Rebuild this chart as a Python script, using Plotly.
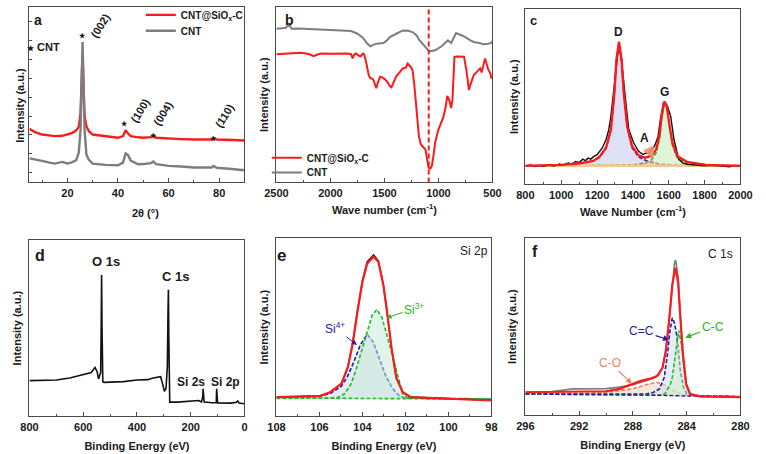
import plotly.graph_objects as go

# ---------------- (a) XRD ----------------
xrd_angle = [5, 7, 10, 13, 15, 18, 20, 22, 23.5, 24.5, 25.2, 25.6, 26, 26.4, 26.8, 27.5, 28.5, 30, 35, 40,
             42, 43, 44, 45, 48, 50, 53, 54, 55, 58, 60, 65, 70, 75, 77, 77.8, 79, 85, 90]
xrd_composite = [54, 51, 48.3, 47, 46.7, 47, 48.3, 50, 52.5, 56, 70, 96.7, 130, 96.7, 66.7, 56.7, 51.7, 48.3, 46.7, 45,
                 46.7, 52.7, 49.3, 46.7, 45.5, 45, 45.7, 47.7, 45, 44.5, 44, 43.7, 43.3, 43.3, 43.3, 45, 43.3, 42.8, 42.3]
xrd_cnt = [24.3, 23, 21.7, 20, 19, 20.7, 19, 20.5, 22.5, 30, 53.3, 96.7, 141.7, 96.7, 53.3, 28.3, 22.7, 19, 17.7, 17.3,
           20, 29.3, 27.5, 22, 18.3, 18.5, 19.5, 21, 18.5, 17.5, 16.7, 16, 15, 15, 15, 16.7, 14.8, 13.5, 12.3]
xrd_peak_names = ["(002)", "(100)", "(004)", "(110)"]
xrd_peak_angle = [26, 42.7, 54.1, 77.6]

# ---------------- (b) FTIR ----------------
ftir_cnt_x = [2500, 2420, 2380, 2360, 2300, 2200, 2108, 2000, 1900, 1809, 1750, 1700, 1660, 1630, 1600, 1570, 1510,
              1480, 1450, 1420, 1390, 1330, 1280, 1240, 1200, 1180, 1121, 1090, 1076, 1031, 971, 930, 912, 882, 860,
              837, 800, 763, 700, 673, 620, 584, 540, 510, 500]
ftir_cnt_y = [155, 155.7, 159.3, 155, 155.3, 155, 154, 153.7, 153.3, 152.7, 150, 146, 140, 137.3, 139, 140, 140.7,
              143, 146.7, 148, 150, 153.3, 153, 151.7, 148, 144, 136.7, 132.7, 132.3, 133.3, 137.3, 141, 143.3, 140.7,
              145, 150.7, 149, 147.3, 143, 141.7, 140.7, 139.3, 140, 140.7, 142.7]
ftir_comp_x = [2500, 2400, 2276, 2200, 2157, 2120, 2082, 2000, 1920, 1850, 1809, 1794, 1780, 1764, 1740, 1720, 1700,
               1690, 1675, 1660, 1645, 1630, 1610, 1600, 1576, 1560, 1540, 1520, 1495, 1470, 1450, 1435, 1410, 1390,
               1360, 1330, 1300, 1286, 1260, 1240, 1225, 1211, 1195, 1181, 1165, 1151, 1121, 1105, 1091, 1075, 1061,
               1045, 1031, 1001, 975, 957, 935, 918, 900, 882, 870, 860, 852, 830, 800, 763, 740, 718, 700, 673, 640,
               614, 600, 580, 569, 555, 539, 520, 510, 500]
ftir_comp_y = [129.3, 130, 130.7, 129.5, 127.3, 129, 130, 129.7, 130, 130, 129.3, 125, 129, 130, 128, 127.3, 130,
               129.3, 124, 116.7, 108, 105, 104.5, 102.7, 95, 101, 106.7, 106, 104, 101, 97, 96, 103, 107.3,
               111, 115, 116, 120, 117, 113.3, 100, 80, 62, 46.7, 39, 36.7, 33.3, 22, 15, 14, 16.7,
               28, 40, 53.3, 60, 65, 75, 87.3, 83, 75, 84, 110, 126.7, 127, 127, 126.7, 112, 93.3, 100, 108.3, 112,
               115, 111, 122, 125, 120, 114, 110, 105, 106]
ftir_marker_wn = 1090

# ---------------- (c) Raman ----------------
raman_data_x = [800, 830, 850, 880, 900, 930, 960, 990, 1010, 1040, 1060, 1080, 1100, 1120, 1135, 1150, 1165, 1180,
                1200, 1214, 1230, 1250, 1265, 1277, 1295, 1310, 1322, 1337, 1350, 1359, 1377, 1395, 1404, 1420, 1431,
                1445, 1458, 1470, 1485, 1500, 1521, 1540, 1553, 1570, 1580, 1593, 1611, 1629, 1645, 1656, 1680, 1701,
                1750, 1800, 1850, 1900, 1940, 1960, 2000]
raman_data_y = [18.7, 19.5, 18, 19, 18.3, 19.5, 18.5, 20.5, 19.5, 21.5, 20.5, 23, 22, 25.5, 24, 26.5, 25.5, 28,
                30, 33.5, 37, 45.3, 55, 68.7, 100, 128, 142.5, 124, 96, 85.3, 55.3, 45, 42, 37, 33.7,
                31.5, 30.3, 31.5, 31.3, 33.5, 38.7, 48, 65.3, 82, 83, 78.7, 68.7, 45.3, 32, 25.3, 21.5, 20.3,
                19.5, 18.7, 19.2, 18.5, 17.8, 19, 18.7]
raman_fit_x = [800, 1000, 1106, 1178, 1214, 1250, 1277, 1295, 1308, 1322, 1337, 1349, 1368, 1395, 1431, 1467, 1503,
               1530, 1548, 1560, 1575, 1589, 1602, 1620, 1647, 1701, 1809, 2000]
raman_fit_y = [18.7, 19.7, 21.3, 23.7, 28, 37, 55.3, 88.7, 125.3, 143.7, 125.3, 92, 58.7, 38.7, 29.3, 27, 28.7,
               35.3, 48.7, 68.7, 83.7, 78.7, 62, 42, 28.7, 22.7, 19.7, 18.7]
raman_d_x = [800, 1000, 1100, 1180, 1214, 1250, 1277, 1295, 1308, 1322, 1337, 1349, 1368, 1395, 1431, 1467, 1503,
             1550, 1600, 1700, 2000]
raman_d_y = [18.7, 19.5, 21, 23.5, 27.5, 36.5, 55, 88.7, 125, 143.7, 125, 92, 58, 37, 28, 24.5, 22, 20.5, 19.8,
             19, 18.7]
raman_g_x = [800, 1400, 1467, 1503, 1530, 1548, 1560, 1575, 1589, 1602, 1620, 1647, 1700, 1809, 2000]
raman_g_y = [18.7, 19.5, 21.5, 25, 32, 46, 66, 82.5, 77, 60, 40, 27, 21.5, 19.5, 18.7]
raman_a_x = [1400, 1450, 1480, 1500, 1520, 1550, 1600]
raman_a_y = [18.7, 19.5, 22, 23.5, 22, 19.5, 18.7]
raman_base_x = [800, 2000]
raman_base_y = [18.7, 18.7]

# ---------------- (d) XPS survey ----------------
survey_be = [800, 750, 700, 650, 600, 570, 556, 548, 543, 535, 533, 531.5, 530, 529, 527, 522, 500, 450, 400, 360,
             340, 318, 312, 305, 298, 292, 287, 284.5, 283, 281.5, 280, 278, 250, 200, 170, 160, 155, 154, 153, 150,
             120, 105, 103.5, 102.5, 100, 50, 30, 25, 20, 0]
survey_int = [36, 36.3, 36.7, 38.7, 42, 44.3, 49.3, 45, 37.7, 44, 90, 142.7, 90, 40, 35, 34.3, 34.5, 35, 36.7, 37,
              38.7, 39.3, 40, 33, 25.3, 28, 50, 105, 127.7, 80, 20, 14.3, 14.3, 15, 16, 14.5, 20, 27.7, 20, 14.5,
              13.7, 13.7, 27.7, 14, 13.5, 13.3, 14.3, 15.5, 13.5, 12.7]
survey_labels = ["O 1s", "C 1s", "Si 2s", "Si 2p"]

# ---------------- (e) Si 2p ----------------
si_env_x = [108, 106, 105.5, 104.98, 104.68, 104.46, 104.23, 104.0, 103.78, 103.48, 103.26, 103.03, 102.88, 102.65,
            102.43, 102.13, 101.75, 100, 98]
si_env_y = [19.3, 20.3, 24.3, 32.7, 49.3, 72.7, 106, 136, 154.3, 161, 156, 132.7, 109.3, 69.3, 39.3, 24.3, 19.3,
            17.7, 16]
si_data_y = [19.5, 20.5, 24.5, 33, 50, 73.5, 107, 137.5, 156, 163, 157, 133, 109, 69, 39, 24.5, 19.5, 17.9, 16.2]
si4_x = [108, 106, 105.5, 105, 104.7, 104.4, 104.1, 103.78, 103.5, 103.2, 102.9, 102.6, 102.3, 102, 100, 98]
si4_y = [19.3, 20.3, 23, 30, 40, 55, 72, 82.7, 75, 58, 40, 28, 21, 18.5, 17.7, 17]
si3_x = [108, 105.2, 104.83, 104.53, 104.3, 104.08, 103.8, 103.55, 103.33, 103.1, 102.9, 102.7, 102.43, 102.13,
         101.9, 98]
si3_y = [18, 18.5, 22.7, 32.7, 47, 62.7, 85, 102, 107.7, 100, 85, 69.3, 46, 22.7, 18.5, 17.5]
si_base_x = [108, 106, 104, 102, 100, 98]
si_base_y = [18.5, 18.3, 18, 17.7, 17.5, 17.3]

# ---------------- (f) C 1s ----------------
c_env_x = [296, 294, 292, 290, 289, 288.07, 287.35, 286.63, 286.15, 285.79, 285.55, 285.31, 285.07, 284.85, 284.64,
           284.47, 284.28, 284.04, 283.75, 283.03, 281.35, 280]
c_env_y = [23.3, 23.5, 23.5, 24.3, 26.7, 31.7, 35, 37.3, 40, 48.3, 65, 95, 131.7, 149, 135, 98.3, 61.7, 31.7, 21.7,
           19, 18.3, 18.3]
c_data_x = [296, 294, 292.5, 291, 290, 289, 288, 287, 286.3, 285.8, 285.55, 285.31, 285.07, 284.9, 284.82, 284.64,
            284.47, 284.28, 284.04, 283.75, 283, 281, 280]
c_data_y = [23.3, 24, 26.7, 27, 27, 28.5, 31, 35, 38.5, 48, 66, 96, 134, 154, 156.7, 140, 100, 62, 31, 21.5, 19,
            18.3, 18.3]
cc2_x = [296, 290, 287, 286.5, 286.03, 285.67, 285.43, 285.25, 285.07, 284.9, 284.71, 284.47, 284.23, 283.99, 283.5, 280]
cc2_y = [21.5, 21.2, 21.5, 23, 26.7, 38.3, 61.7, 85, 98.3, 93, 78.3, 45, 28.3, 21.7, 20, 18.8]
cc1_x = [296, 286, 285.6, 285.43, 285.2, 285.07, 284.83, 284.59, 284.35, 284.18, 283.99, 283.75, 283.3, 280]
cc1_y = [21.5, 20.3, 22, 26.7, 32, 38.3, 61.7, 85.7, 68.3, 45, 28.3, 21.7, 19.8, 18.8]
co_x = [296, 292, 290, 289, 288, 287, 286.2, 285.5, 285, 284.5, 284, 282, 280]
co_y = [21.5, 22, 23.3, 25, 26.7, 31, 33.3, 30, 25, 21.7, 20.5, 19, 18.8]
c_base_x = [296, 290, 286, 284, 282, 280]
c_base_y = [21.5, 21, 20.3, 19.5, 19, 18.8]

# ---------------- styling ----------------
W, H = 766, 454
FONT = "Liberation Sans, Arial, sans-serif"
RED = "rgb(250,28,28)"
GRAY = "rgb(125,125,125)"
BLUE = "rgb(30,30,160)"
GREEN = "rgb(40,185,40)"
ORANGE = "rgb(245,130,95)"
AX = "#4a4a4a"
TF = dict(family=FONT, size=11, color="#1a1a1a", weight="bold")
TITLEF = dict(family=FONT, size=11, color="#1a1a1a", weight="bold")

# pixel boxes of each panel (left, right, top, bottom)
BOX = {1: (18, 240, 3, 180), 2: (273, 496, 3, 180), 3: (530, 752, 5, 182),
       4: (18, 240, 238, 416), 5: (273, 495, 236, 416), 6: (530, 752, 236, 415)}
XR = {1: [5, 90], 2: [2500, 500], 3: [800, 2000], 4: [800, 0], 5: [108, 98], 6: [296, 280]}
YR = {1: [0, 177], 2: [0, 177], 3: [0, 177], 4: [0, 178], 5: [0, 180], 6: [0, 179]}
DT = {1: (20, 10), 2: (500, 250), 3: (200, 100), 4: (200, 100), 5: (2, 1), 6: (4, 2)}
XT = {1: "2θ (°)", 2: "Wave number (cm<sup>-1</sup>)", 3: "Wave Number (cm<sup>-1</sup>)",
      4: "Binding Energy (eV)", 5: "Binding Energy (eV)", 6: "Binding Energy (eV)"}
XSTAND = {2: 8, 3: 8, 4: 10, 5: 10, 6: 10}
YSTAND = {1: 4, 2: 4, 3: 3.5, 4: 4.5, 5: 4.5, 6: 5.5}

fig = go.Figure()
layout = dict(width=W, height=H, margin=dict(l=0, r=0, t=0, b=0), paper_bgcolor="white",
              plot_bgcolor="white", showlegend=True)
for i in range(1, 7):
    l, r, t, b = BOX[i]
    sx = "" if i == 1 else str(i)
    xa = dict(domain=[l / W, r / W], range=XR[i], anchor="y" + sx, showline=True, mirror=True,
              linecolor=AX, linewidth=1, ticks="inside", ticklen=4, tickcolor=AX, tickwidth=1,
              tick0=0, dtick=DT[i][0], showgrid=False, zeroline=False, tickfont=TF,
              minor=dict(ticks="inside", ticklen=2.5, dtick=DT[i][1], tickcolor=AX))
    ya = dict(domain=[1 - b / H, 1 - t / H], range=YR[i], anchor="x" + sx, showline=True, mirror=True,
              linecolor=AX, linewidth=1, showticklabels=False, showgrid=False, zeroline=False, ticks="")
    if i != 1:
        xa["title"] = dict(text=XT[i], font=TITLEF, standoff=XSTAND[i])
        ya["title"] = dict(text="Intensity (a.u.)", font=TITLEF, standoff=YSTAND[i])
    else:
        ya.update(ticks="inside", ticklen=3, tick0=10, dtick=19, tickcolor=AX)
    layout["xaxis" + sx] = xa
    layout["yaxis" + sx] = ya


def xy(i):
    return ("x", "y") if i == 1 else ("x" + str(i), "y" + str(i))


def line(i, x, y, color, width=2, dash=None, name=None, legend=None, fill=None, fillcolor=None):
    xa, ya = xy(i)
    fig.add_trace(go.Scatter(x=x, y=y, mode="lines", xaxis=xa, yaxis=ya,
                             line=dict(color=color, width=width, dash=dash),
                             name=name, showlegend=legend is not None, legend=legend,
                             fill=fill, fillcolor=fillcolor, hoverinfo="skip"))


def comp(i, bx, by, x, y, color, fillcolor):
    line(i, bx, by, "rgba(0,0,0,0)", width=0)
    line(i, x, y, color, width=1.6, dash="4px,2px", fill="tonexty", fillcolor=fillcolor)


# (a)
line(1, xrd_angle, xrd_composite, RED, 2.4, name="CNT@SiO<sub>x</sub>-C", legend="legend")
line(1, xrd_angle, xrd_cnt, GRAY, 2.4, name="CNT", legend="legend2")
# (b)
line(2, ftir_cnt_x, ftir_cnt_y, GRAY, 2, name="CNT", legend="legend4")
line(2, ftir_comp_x, ftir_comp_y, RED, 2, name="CNT@SiO<sub>x</sub>-C", legend="legend3")
# (c)
comp(3, raman_base_x, raman_base_y, raman_d_x, raman_d_y, BLUE, "rgba(200,200,238,0.55)")
comp(3, raman_base_x, raman_base_y, raman_g_x, raman_g_y, GREEN, "rgba(200,238,190,0.6)")
line(3, raman_a_x, raman_a_y, ORANGE, 1.6, dash="4px,2px")
line(3, raman_base_x, raman_base_y, "rgb(250,200,140)", 2.5)
line(3, raman_data_x, raman_data_y, "#111111", 1.4)
line(3, raman_fit_x, raman_fit_y, RED, 2.4)
# (d)
line(4, survey_be, survey_int, "#111111", 1.6)
# (e)
comp(5, si_base_x, si_base_y, si4_x, si4_y, BLUE, "rgba(205,215,240,0.5)")
comp(5, si_base_x, si_base_y, si3_x, si3_y, GREEN, "rgba(200,235,215,0.55)")
line(5, si_base_x, si_base_y, GREEN, 1.6, dash="4px,2px")
line(5, si_env_x, si_data_y, "#222222", 1.4)
line(5, si_env_x, si_env_y, RED, 2.2)
# (f)
comp(6, c_base_x, c_base_y, co_x, co_y, ORANGE, "rgba(245,215,190,0.55)")
comp(6, c_base_x, c_base_y, cc2_x, cc2_y, BLUE, "rgba(205,220,240,0.5)")
comp(6, c_base_x, c_base_y, cc1_x, cc1_y, GREEN, "rgba(205,238,200,0.55)")
line(6, c_base_x, c_base_y, BLUE, 1.4, dash="4px,2px")
line(6, c_data_x, c_data_y, GRAY, 1.6)
line(6, c_env_x, c_env_y, RED, 2.2)

# dashed marker line in (b)
fig.add_shape(type="line", xref="x2", yref="y2 domain", x0=ftir_marker_wn, x1=ftir_marker_wn, y0=0, y1=1,
              line=dict(color=RED, width=2, dash="5px,3px"))

ann = []


def txt(i, x, y, s, size=11, color="#1a1a1a", bold=True, angle=0, **kw):
    xa, ya = xy(i)
    ann.append(dict(xref=xa, yref=ya, x=x, y=y, text=s, showarrow=False, textangle=angle,
                    font=dict(family=FONT, size=size, color=color, weight="bold" if bold else "normal"), **kw))


def arrow(i, x, y, tx, ty, s, color, size=12, width=1.2, head=2, asize=1):
    xa, ya = xy(i)
    ann.append(dict(xref=xa, yref=ya, axref=xa, ayref=ya, x=x, y=y, ax=tx, ay=ty, text=s, showarrow=True,
                    arrowhead=head, arrowsize=asize, arrowwidth=width, arrowcolor=color,
                    font=dict(family=FONT, size=size, color=color)))


def ptxt(px, py, s, size=11, angle=0):
    ann.append(dict(xref="paper", yref="paper", x=px / W, y=1 - py / H, text=s, showarrow=False,
                    textangle=angle, xanchor="center", yanchor="middle",
                    font=dict(family=FONT, size=size, color="#1a1a1a", weight="bold")))


# panel letters
txt(1, 8.2, 164, "a", 14)
txt(2, 2383, 164, "b", 14)
txt(3, 845, 165, "c", 13)
txt(4, 759, 162, "d", 16)
txt(5, 107.75, 162, "e", 17)
txt(6, 295.3, 165, "f", 16)

# (a) peak marks
txt(1, 10.5, 137, "<span style='font-size:8px'>★</span> CNT", 11)
star_y = [148, 59.3, 47.7, 44]
lab_pos = [(32.8, 158.3), (48.9, 73), (57.9, 70), (82, 67)]
for k in range(4):
    txt(1, xrd_peak_angle[k], star_y[k], "★", 7)
    txt(1, lab_pos[k][0], lab_pos[k][1], xrd_peak_names[k], 11, angle=-58)

# (c) labels
txt(3, 1322, 153.7, "D", 12)
txt(3, 1575, 93.7, "G", 12)
txt(3, 1463, 47, "A", 12)
arrow(3, 1515, 26, 1478, 40, " ", "rgba(245,140,110,0.9)", size=4, width=3, head=2, asize=0.8)

# (d) labels
txt(4, 516, 156, survey_labels[0], 13)
txt(4, 256, 141, survey_labels[1], 13)
txt(4, 198, 34.3, survey_labels[2], 12)
txt(4, 72, 34.3, survey_labels[3], 12)

# (e) labels
txt(5, 98.8, 166.7, "Si 2p", 12, color="#222222", bold=False)
arrow(5, 104.26, 72, 105.28, 89.3, "Si<sup>4+</sup>", BLUE, 12, 1)
arrow(5, 102.88, 99.3, 101.6, 108.7, "Si<sup>3+</sup>", GREEN, 12, 1)

# (f) labels
txt(6, 281.45, 162.7, "C 1s", 12, color="#222222", bold=False)
arrow(6, 285.31, 76, 287.35, 85, "C=C", BLUE, 12, 1.2)
arrow(6, 284.11, 78.3, 282.07, 89, "C-C", GREEN, 12, 1.2)
arrow(6, 288.07, 31.7, 289.7, 53.3, "C-O", ORANGE, 12, 1.2)

# panel (a) axis titles (off-centre in the reference)
ptxt(8, 102, "Intensity (a.u.)", 11, -90)
ptxt(138, 211, "2θ (°)", 11)

LF = dict(family=FONT, size=10, color="#1a1a1a", weight="bold")
for key, lx, ly in [("legend", 133, 11), ("legend2", 133, 27), ("legend3", 263, 155), ("legend4", 263, 170)]:
    layout[key] = dict(x=lx / W, y=1 - ly / H, xanchor="left", yanchor="middle", bgcolor="rgba(0,0,0,0)",
                       font=LF, borderwidth=0, itemwidth=30, tracegroupgap=0)

layout["annotations"] = ann
fig.update_layout(**layout)
fig.write_html("out.html", config={"displayModeBar": False},
               post_script="document.body.style.margin='0';document.body.style.padding='0';")
